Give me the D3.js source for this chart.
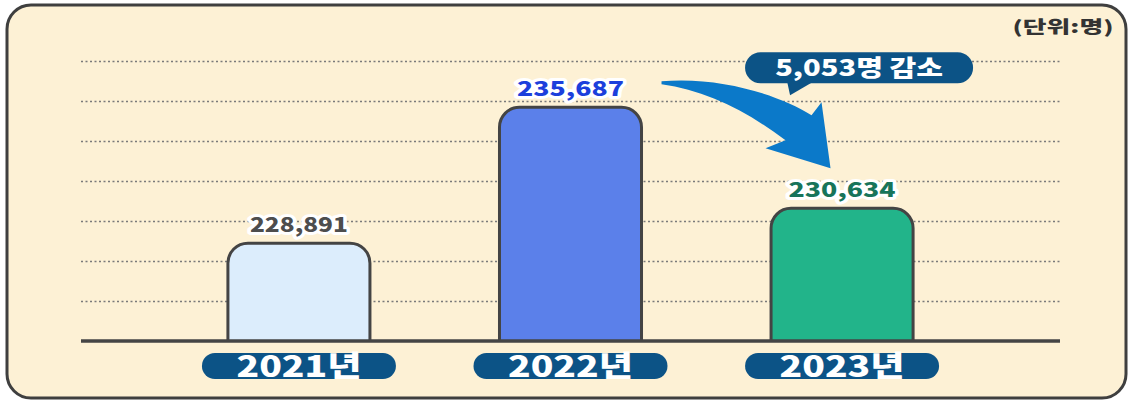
<!DOCTYPE html>
<html>
<head>
<meta charset="utf-8">
<script src="https://cdn.jsdelivr.net/npm/d3@7"></script>
<style>
  body { margin: 0; background: #ffffff; }
  svg { display: block; font-family: "Noto Sans CJK KR", "Noto Sans", sans-serif; }
</style>
</head>
<body>
<svg width="1131" height="403"></svg>
<script>
var years = ["2021년", "2022년", "2023년"];
var values = [228891, 235687, 230634];
var gridTicks = [226000, 228000, 230000, 232000, 234000, 236000, 238000];
var unitLabel = "(단위:명)";

var barFill = ["#dcedfc", "#5b80ea", "#22b48a"];
var labelFill = ["#4d4d4d", "#1c3fdc", "#17745a"];

var svg = d3.select("svg");

// stretch a text horizontally to a given width (the poster font is very wide)
function stretch(sel, cx, cy, width){
    sel.each(function(d, i){
        var w = this.getComputedTextLength();
        var tw = typeof width == "function" ? width(d, i) : width;
        var px = typeof cx == "function" ? cx(d, i) : cx;
        var py = typeof cy == "function" ? cy(d, i) : cy;
        d3.select(this).attr("transform",
            "translate(" + px + "," + py + ") scale(" + (tw / w) + ",1)");
    });
}

// frame
svg.append("rect")
    .attr("x", 7).attr("y", 5)
    .attr("width", 1119).attr("height", 393)
    .attr("rx", 24)
    .attr("fill", "#fdf1d5")
    .attr("stroke", "#3f3f3f")
    .attr("stroke-width", 3);

var x = d3.scaleBand()
    .domain(years)
    .range([81, 1060])
    .paddingInner(0.477)
    .paddingOuter(0.541);

var y = d3.scaleLinear()
    .domain([224000, 238000])
    .range([341, 61]);

// dotted grid
svg.append("g")
    .selectAll("line")
    .data(gridTicks)
    .enter()
    .append("line")
    .attr("x1", 81).attr("x2", 1060)
    .attr("y1", function(d){ return y(d) + 0.5; })
    .attr("y2", function(d){ return y(d) + 0.5; })
    .attr("stroke", "#7a7a7a")
    .attr("stroke-width", 1.3)
    .attr("stroke-dasharray", "2,2.5");

// bars, top corners rounded
function barPath(d, i){
    var x0 = x(years[i]), x1 = x0 + x.bandwidth();
    var y0 = y(224000), y1 = y(d), r = 20;
    var p = d3.path();
    p.moveTo(x0, y0);
    p.lineTo(x0, y1 + r);
    p.arcTo(x0, y1, x0 + r, y1, r);
    p.lineTo(x1 - r, y1);
    p.arcTo(x1, y1, x1, y1 + r, r);
    p.lineTo(x1, y0);
    return p.toString();
}

svg.append("g")
    .selectAll("path")
    .data(values)
    .enter()
    .append("path")
    .attr("d", barPath)
    .attr("fill", function(d, i){ return barFill[i]; })
    .attr("stroke", "#444444")
    .attr("stroke-width", 3);

// baseline
svg.append("line")
    .attr("x1", 81).attr("x2", 1060)
    .attr("y1", y(224000)).attr("y2", y(224000))
    .attr("stroke", "#454545")
    .attr("stroke-width", 3.5);

// value labels
svg.append("g")
    .selectAll("text")
    .data(values)
    .enter()
    .append("text")
    .attr("text-anchor", "middle")
    .attr("font-size", 20)
    .attr("font-weight", 900)
    .attr("fill", function(d, i){ return labelFill[i]; })
    .attr("stroke", "#ffffff")
    .attr("stroke-width", 6)
    .attr("stroke-linejoin", "round")
    .attr("paint-order", "stroke")
    .text(function(d){ return d3.format(",")(d); })
    .call(stretch,
        function(d, i){ return x(years[i]) + x.bandwidth() / 2; },
        function(d){ return y(d) - 11; },
        function(d, i){ return i == 0 ? 98 : 107; });

// year pills
var pills = svg.append("g")
    .selectAll("g")
    .data(years)
    .enter()
    .append("g")
    .attr("transform", function(d){
        return "translate(" + (x(d) + x.bandwidth() / 2) + ",366)";
    });

pills.append("rect")
    .attr("x", -97).attr("y", -13)
    .attr("width", 194).attr("height", 26)
    .attr("rx", 13)
    .attr("fill", "#0c5386");

pills.append("text")
    .attr("text-anchor", "middle")
    .attr("font-size", 29)
    .attr("font-weight", 900)
    .attr("fill", "#ffffff")
    .text(function(d){ return d; })
    .call(stretch, 0, 11, 125);

// unit
svg.append("text")
    .attr("text-anchor", "middle")
    .attr("font-size", 17)
    .attr("font-weight", 900)
    .attr("fill", "#333333")
    .text(unitLabel)
    .call(stretch, 1063, 33, 101);

// curved arrow from 2022 to 2023
var tipX = x(years[2]) + x.bandwidth() / 2 - 10;
var tipY = y(values[2]) - 40;
var tailX = x(years[1]) + x.bandwidth() + 20;
var tailY = y(values[1]) - 25;
function pt(dx, dy){ return (tailX + dx) + "," + (tailY + dy); }

svg.append("path")
    .attr("d", "M" + pt(0, -1) +
        " C" + pt(57, -6) + " " + pt(117, 12) + " " + pt(150, 33) +
        " L" + pt(160, 20) +
        " L" + pt(169, 86) +
        " L" + pt(104, 66) +
        " L" + pt(124, 58) +
        " C" + pt(84, 28) + " " + pt(44, 8) + " " + pt(0, 2) + " Z")
    .attr("fill", "#0b79c9");

// callout
var diff = values[1] - values[2];
var callout = svg.append("g")
    .attr("transform", "translate(" + (tipX + 27) + "," + (tipY - 100) + ")");

callout.append("path")
    .attr("d", "M-72,13 L-45,13 L-69,27 Z")
    .attr("fill", "#0c5386");

callout.append("rect")
    .attr("x", -114).attr("y", -16)
    .attr("width", 228).attr("height", 31)
    .attr("rx", 15.5)
    .attr("fill", "#0c5386");

callout.append("text")
    .attr("text-anchor", "middle")
    .attr("font-size", 23)
    .attr("font-weight", 900)
    .attr("fill", "#ffffff")
    .text(d3.format(",")(diff) + "명 감소")
    .call(stretch, 0, 8, 168);
</script>
</body>
</html>
